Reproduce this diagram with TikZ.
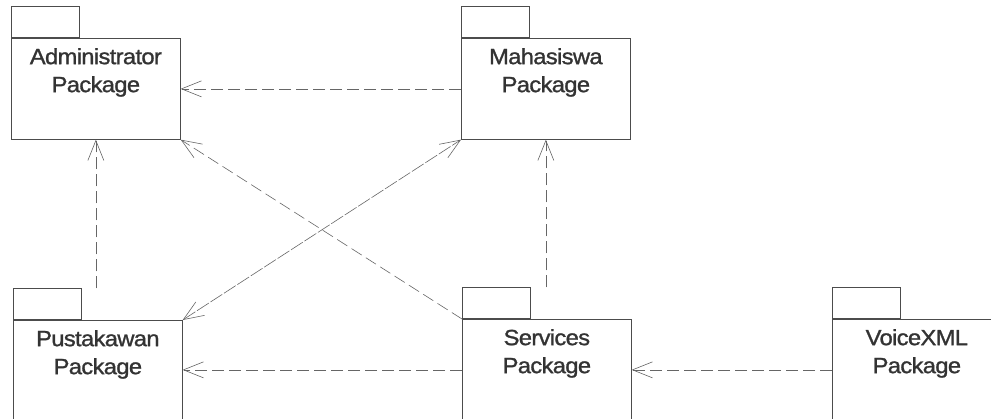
\documentclass[tikz,border=0pt]{standalone}
\usepackage{fontspec}
\newfontfamily\pkgfont{Liberation Sans}[FakeStretch=1.08,FakeBold=1.2,LetterSpace=-3]
\usetikzlibrary{arrows.meta,calc}
\begin{document}
\begin{tikzpicture}[x=1pt,y=-1pt,
  pkgline/.style={draw=black!70, line width=0.7pt},
  pkgbody/.style={pkgline, rectangle, inner sep=0pt, minimum width=169pt, minimum height=101pt, anchor=north west},
  pkgtab/.style={pkgline, rectangle, inner sep=0pt, minimum width=68pt, minimum height=31pt, anchor=south west},
  pkgtext/.style={anchor=north, inner sep=0pt, align=center, font=\pkgfont\fontsize{22}{28}\selectfont, text=black!80},
  >={Straight Barb[length=20pt,width=16pt]},
  dep/.style={draw=black!60, line width=0.6pt, dash pattern=on 12pt off 5pt, ->},
  both/.style={draw=black!60, line width=0.6pt, dash pattern=on 14pt off 2pt, <->},
]
\useasboundingbox (0,0) rectangle (991,419);
\clip (0,0) rectangle (991,419);

% packages
\node[pkgbody] (adm) at (11,38) {};
\node[pkgtab] (admtab) at (11,38) {};
\node[pkgtext] (admtxt) at ($(adm.north)+(0,10)$) {Administrator\\Package};

\node[pkgbody] (mah) at (461,38) {};
\node[pkgtab] (mahtab) at (461,38) {};
\node[pkgtext] (mahtxt) at ($(mah.north)+(0,10)$) {Mahasiswa\\Package};

\node[pkgbody] (pus) at (13,320) {};
\node[pkgtab] (pustab) at (13,320) {};
\node[pkgtext] (pustxt) at ($(pus.north)+(0,10)$) {Pustakawan\\Package};

\node[pkgbody] (ser) at (462,319) {};
\node[pkgtab] (sertab) at (462,319) {};
\node[pkgtext] (sertxt) at ($(ser.north)+(0,10)$) {Services\\Package};

\node[pkgbody] (vxml) at (832,319) {};
\node[pkgtab] (vxmltab) at (832,319) {};
\node[pkgtext] (vxmltxt) at ($(vxml.north)+(0,10)$) {VoiceXML\\Package};

% dependencies
\draw[dep] (mah.west) -- (adm.east);
\draw[dep] (adm.south |- pustab.north) -- (adm.south);
\draw[dep] (sertab.south west) -- (adm.south east);
\draw[both] (pus.north east) -- (mah.south west);
\draw[dep] (mah.south |- sertab.north) -- (mah.south);
\draw[dep] (ser.west) -- (ser.west -| pus.east);
\draw[dep] (vxml.west) -- (ser.east);
\end{tikzpicture}
\end{document}
